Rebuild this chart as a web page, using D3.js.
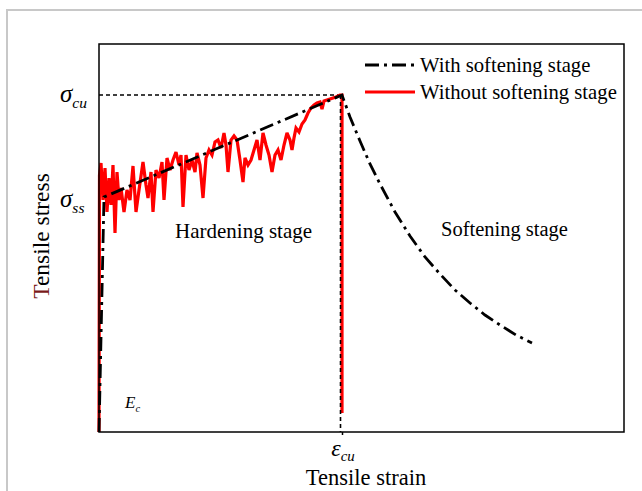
<!DOCTYPE html>
<html>
<head>
<meta charset="utf-8">
<script src="https://cdn.jsdelivr.net/npm/d3@7"></script>
<style>
  html, body { margin: 0; padding: 0; background: #fff; }
  svg { display: block; }
  text { font-family: "Liberation Serif", "Times New Roman", serif; fill: #000; }
</style>
</head>
<body>
<svg id="chart" width="642" height="491"></svg>
<script>
// Strain in %, stress in MPa
const strainCU = 2.43;   // ultimate tensile strain
const stressCU = 3.37;   // ultimate tensile strength
const stressSS = 2.32;   // steady-state cracking stress

// With softening stage: elastic rise, linear hardening, then decaying softening branch
const softStrain = [0, 0.05, 2.43, 2.51, 2.61, 2.71, 2.81, 2.96, 3.11, 3.26, 3.41, 3.56, 3.71, 3.86, 4.01, 4.17, 4.33];
const softStress = [0, 2.35, 3.37, 3.15, 2.91, 2.68, 2.48, 2.20, 1.96, 1.75, 1.58, 1.42, 1.29, 1.17, 1.07, 0.97, 0.89];

// Without softening stage: measured multiple-cracking response with sudden drop at peak
const testStrain = [0, 0.005, 0.02, 0.04, 0.06, 0.08, 0.10, 0.12, 0.14, 0.16, 0.18, 0.20, 0.22, 0.25, 0.28, 0.31,
  0.34, 0.37, 0.40, 0.44, 0.47, 0.49, 0.52, 0.54, 0.57, 0.60, 0.63, 0.65, 0.68, 0.71, 0.74, 0.77, 0.80, 0.82,
  0.84, 0.87, 0.90, 0.93, 0.96, 0.98, 1.01, 1.04, 1.07, 1.10, 1.13, 1.16, 1.19, 1.22, 1.25, 1.27, 1.29, 1.32,
  1.35, 1.38, 1.41, 1.44, 1.46, 1.49, 1.52, 1.55, 1.58, 1.61, 1.64, 1.67, 1.70, 1.73, 1.76, 1.79, 1.82, 1.85,
  1.88, 1.91, 1.93, 1.95, 1.97, 2.00, 2.03, 2.06, 2.09, 2.12, 2.15, 2.18, 2.21, 2.23, 2.25, 2.28, 2.31, 2.34,
  2.37, 2.41, 2.43, 2.43];
const testStress = [0, 2.57, 2.69, 2.32, 2.64, 2.20, 2.54, 2.27, 2.67, 1.99, 2.60, 2.32, 2.44, 2.20, 2.42, 2.32,
  2.66, 2.20, 2.42, 2.70, 2.47, 2.34, 2.60, 2.20, 2.62, 2.54, 2.70, 2.32, 2.74, 2.62, 2.72, 2.80, 2.67, 2.77,
  2.25, 2.77, 2.62, 2.72, 2.60, 2.79, 2.67, 2.34, 2.74, 2.82, 2.77, 2.90, 2.92, 2.84, 2.99, 2.87, 2.60, 2.92,
  2.96, 2.92, 2.72, 2.50, 2.74, 2.67, 2.72, 2.82, 2.92, 2.72, 2.99, 2.87, 2.77, 2.60, 2.77, 2.82, 2.72, 2.87,
  2.99, 2.92, 2.82, 2.94, 3.04, 3.00, 3.08, 3.12, 3.19, 3.24, 3.27, 3.29, 3.30, 3.23, 3.31, 3.32, 3.33, 3.34,
  3.35, 3.37, 3.37, 0.19];

const seriesNames = ["With softening stage", "Without softening stage"];
const seriesColors = ["#000000", "#ff0000"];

const svg = d3.select("#chart");

// Frame around the figure
svg.append("path")
  .attr("d", "M7,491 V10 H642")
  .attr("fill", "none")
  .attr("stroke", "#c8c8c8")
  .attr("stroke-width", 2);

const plot = { left: 99, right: 624, top: 44, bottom: 432 };

const x = d3.scaleLinear().domain([0, 5.25]).range([plot.left, plot.right]);
const y = d3.scaleLinear().domain([0, 3.88]).range([plot.bottom, plot.top]);

// Dotted guides to the ultimate point
svg.append("path")
  .attr("d", `M${x(0)},${y(stressCU)} H${x(strainCU)}`)
  .attr("stroke", "#000").attr("stroke-width", 1.6)
  .attr("stroke-dasharray", "4,3").attr("fill", "none");

const line = d3.line().x(d => x(d[0])).y(d => y(d[1]));

// Test curve (red)
svg.append("path")
  .datum(d3.zip(testStrain, testStress))
  .attr("d", line)
  .attr("fill", "none")
  .attr("stroke", seriesColors[1])
  .attr("stroke-width", 3.2)
  .attr("stroke-linejoin", "miter")
  .attr("stroke-miterlimit", 3);

svg.append("path")
  .attr("d", `M${x(strainCU) - 1.5},${y(stressCU)} V${y(0)}`)
  .attr("stroke", "#000").attr("stroke-width", 1.6)
  .attr("stroke-dasharray", "4,3").attr("fill", "none");

// Model curve (black dash-dot)
svg.append("path")
  .datum(d3.zip(softStrain, softStress))
  .attr("d", line)
  .attr("fill", "none")
  .attr("stroke", seriesColors[0])
  .attr("stroke-width", 2.8)
  .attr("stroke-dasharray", "14,5,3,5");

// Plot box
svg.append("rect")
  .attr("x", plot.left).attr("y", plot.top)
  .attr("width", plot.right - plot.left).attr("height", plot.bottom - plot.top)
  .attr("fill", "none").attr("stroke", "#000").attr("stroke-width", 1.5);

// Axes with symbolic ticks
const xAxis = d3.axisBottom(x).tickValues([strainCU]).tickSize(3).tickFormat("");
svg.append("g").attr("transform", `translate(0,${plot.bottom})`).call(xAxis)
  .call(g => g.select(".domain").remove())
  .call(g => g.selectAll("line").attr("stroke", "#000").attr("stroke-width", 1.5));

function symbolLabel(xPos, yPos, main, sub, size, anchor) {
  const t = svg.append("text")
    .attr("x", xPos).attr("y", yPos)
    .attr("font-style", "italic")
    .attr("font-size", size)
    .attr("text-anchor", anchor || "start");
  t.append("tspan").text(main);
  t.append("tspan").attr("font-size", size * 0.62).attr("dy", size * 0.22).text(sub);
  return t;
}

symbolLabel(60, y(stressCU) + 7, "σ", "cu", 25);
symbolLabel(60, y(stressSS) + 7, "σ", "ss", 25);
symbolLabel(x(strainCU) + 1, plot.bottom + 24, "ε", "cu", 24, "middle");
symbolLabel(125, 408, "E", "c", 17);

// Axis titles
svg.append("text")
  .attr("x", 366).attr("y", 485)
  .attr("text-anchor", "middle")
  .attr("font-size", 22.5)
  .text("Tensile strain");

const yTitle = svg.append("text")
  .attr("transform", "translate(49,236) rotate(-90)")
  .attr("text-anchor", "middle")
  .attr("font-size", 23.5);
yTitle.append("tspan").attr("fill", "#7a1a1a").text("T");
yTitle.append("tspan").text("ensile stress");

// Stage annotations
svg.append("text").attr("x", 175).attr("y", 238).attr("font-size", 21).text("Hardening stage");
svg.append("text").attr("x", 441).attr("y", 236).attr("font-size", 20.5).text("Softening stage");

// Legend
const legend = svg.append("g").attr("transform", "translate(365,65)");
seriesNames.forEach((name, i) => {
  const row = legend.append("g").attr("transform", `translate(0,${i * 27})`);
  row.append("line")
    .attr("x1", 0).attr("x2", 50).attr("y1", 0).attr("y2", 0)
    .attr("stroke", seriesColors[i]).attr("stroke-width", 2.8)
    .attr("stroke-dasharray", i === 0 ? "14,5,3,5" : null);
  row.append("text").attr("x", 55).attr("y", 7).attr("font-size", 20.7).text(name);
});
</script>
</body>
</html>
